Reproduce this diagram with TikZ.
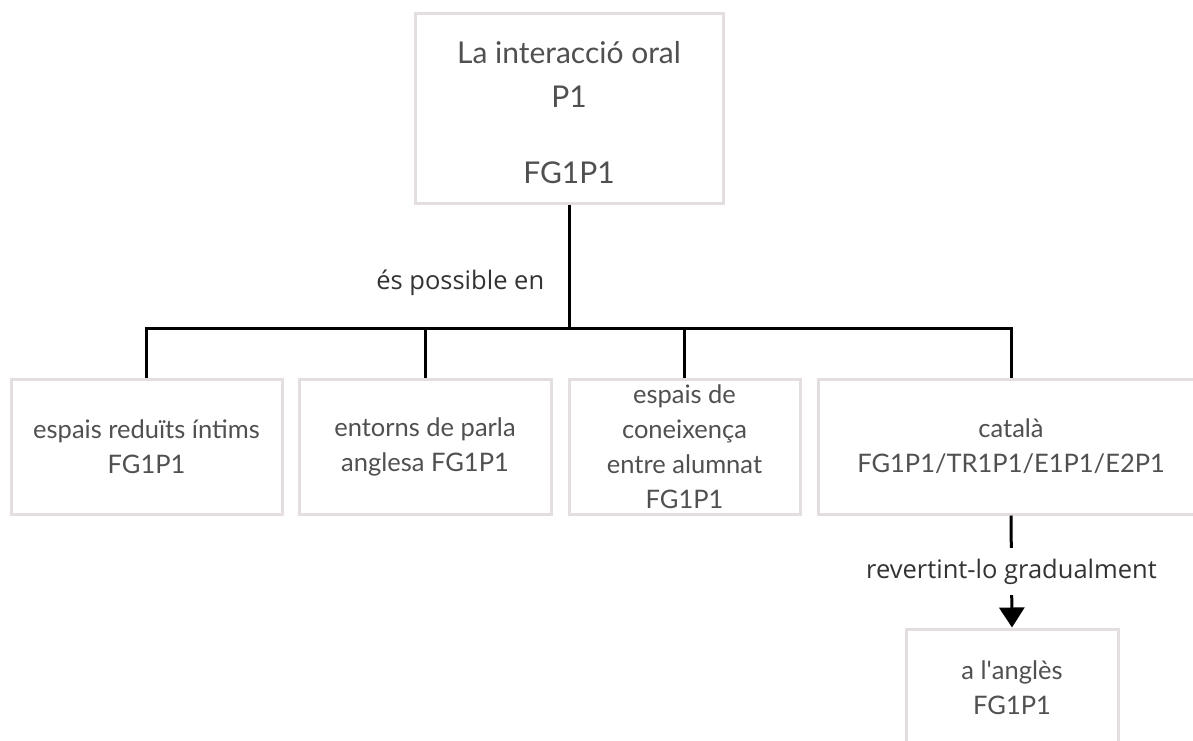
\documentclass[tikz,border=0pt]{standalone}
\usepackage{fontspec}
\setmainfont{Lato}
\newfontfamily\labelfont{Open Sans}
\usetikzlibrary{arrows.meta}
\definecolor{boxline}{HTML}{E4DEE0}
\definecolor{boxtext}{HTML}{505050}
\definecolor{linktext}{HTML}{333333}
\begin{document}
\begin{tikzpicture}[x=1pt,y=-1pt,
  box/.style={draw=boxline, line width=3pt, fill=white, align=center,
    text=boxtext, inner sep=2pt, minimum height=135pt,
    font=\fontsize{25.5}{35}\selectfont},
  conn/.style={draw=black, line width=3pt, line join=miter},
  linklabel/.style={text=linktext, font=\labelfont\fontsize{25.5}{28}\selectfont}]
\useasboundingbox (0,0) rectangle (1193,740);
\clip (0,0) rectangle (1193,740);

% root concept (text set a little below the centre)
\node[box, minimum width=308pt, minimum height=190pt,
      label={[align=center, text=boxtext, yshift=-5pt,
              font=\fontsize{30}{44}\selectfont]center:La interacció oral\\P1\\[32pt]FG1P1}]
  (top) at (569,108) {};

% second level
\node[box, minimum width=271pt] (b1) at (146.5,446.5)
  {espais reduïts íntims\\FG1P1};
\node[box, minimum width=252pt] (b2) at (425,446.5)
  {entorns de parla\\anglesa FG1P1};
\node[box, minimum width=231pt] (b3) at (684.5,446.5)
  {espais de\\coneixença\\entre alumnat\\FG1P1};
\node[box, minimum width=386pt] (b4) at (1011,446.5)
  {català\\FG1P1/TR1P1/E1P1/E2P1};

% third level
\node[box, minimum width=212pt, minimum height=118pt] (b5) at (1012,688)
  {a l\textquotesingle anglès\\FG1P1};

% connectors
\coordinate (hub) at (569,328);
\draw[conn] (top.south) -- node[linklabel, pos=0.63, anchor=east, xshift=-20pt]
  {és possible en} (hub);
\foreach \b in {b1,b2,b3,b4}
  \draw[conn] (hub) -| (\b.north);
\draw[conn, -{Triangle[width=25pt,length=20pt]}] (b4.south) --
  node[linklabel, fill=white, minimum height=47pt, inner sep=0pt]
  {revertint-lo gradualment} (b5.north);
\end{tikzpicture}
\end{document}
